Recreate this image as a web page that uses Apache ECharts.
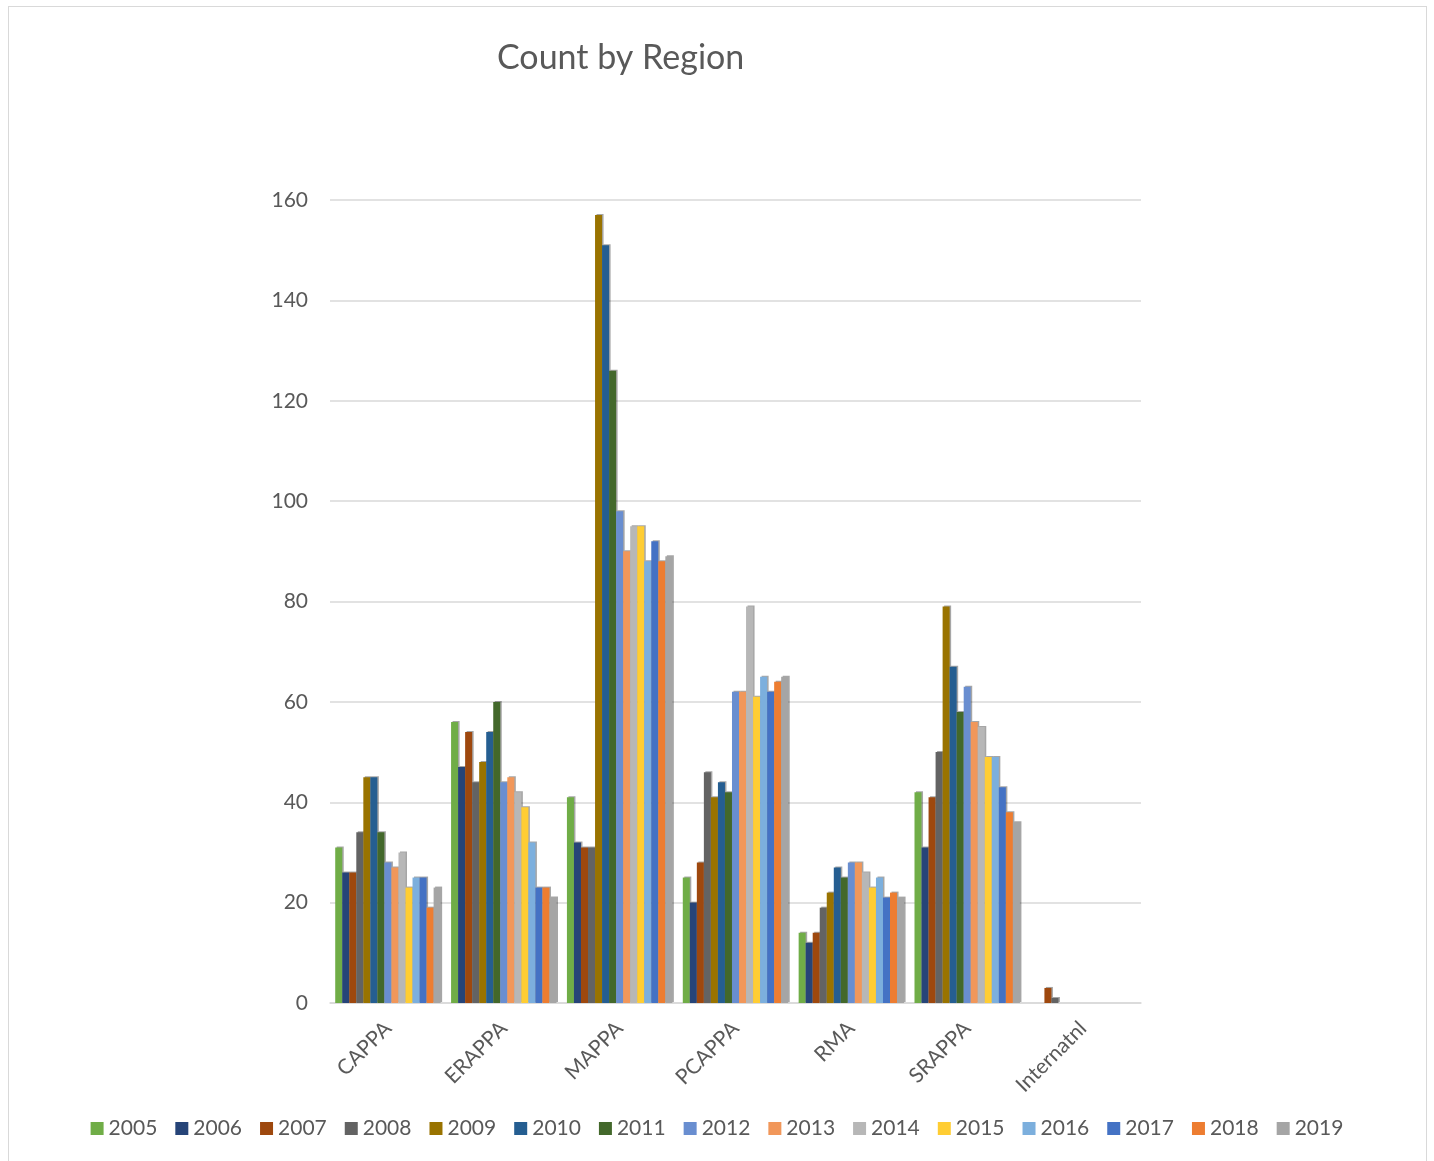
<!DOCTYPE html>
<html>
<head>
<meta charset="utf-8">
<script src="https://cdn.jsdelivr.net/npm/echarts@6/dist/echarts.min.js"></script>
<style>
html,body{margin:0;padding:0;background:#fff;}
#frame{position:absolute;left:8px;top:6px;width:1419px;height:1160px;border:1px solid #D9D9D9;box-sizing:border-box;}
#chart{position:absolute;left:0;top:0;width:1434px;height:1161px;}
</style>
</head>
<body>
<div id="frame"></div>
<div id="chart"></div>
<script>
const categories = ['CAPPA','ERAPPA','MAPPA','PCAPPA','RMA','SRAPPA','Internatnl'];
const years = ['2005','2006','2007','2008','2009','2010','2011','2012','2013','2014','2015','2016','2017','2018','2019'];
const colors = ['#70AD47','#264478','#9E480E','#636363','#997300','#255E91','#43682B','#698ED0','#F1975A','#B7B7B7','#FFCD33','#7CAFDD','#4472C4','#ED7D31','#A5A5A5'];
const yTicks = {min:0, max:160, interval:20};

const v2005 = [31,56,41,25,14,42,0];
const v2006 = [26,47,32,20,12,31,0];
const v2007 = [26,54,31,28,14,41,3];
const v2008 = [34,44,31,46,19,50,1];
const v2009 = [45,48,157,41,22,79,0];
const v2010 = [45,54,151,44,27,67,0];
const v2011 = [34,60,126,42,25,58,0];
const v2012 = [28,44,98,62,28,63,0];
const v2013 = [27,45,90,62,28,56,0];
const v2014 = [30,42,95,79,26,55,0];
const v2015 = [23,39,95,61,23,49,0];
const v2016 = [25,32,88,65,25,49,0];
const v2017 = [25,23,92,62,21,43,0];
const v2018 = [19,23,88,64,22,38,0];
const v2019 = [23,21,89,65,21,36,0];
const valuesByYear = [v2005,v2006,v2007,v2008,v2009,v2010,v2011,v2012,v2013,v2014,v2015,v2016,v2017,v2018,v2019];

const font = 'Lato, "Liberation Sans", sans-serif';
const chart = echarts.init(document.getElementById('chart'));
chart.setOption({
  animation:false,
  color: colors,
  title:{
    text:'Count by Region',
    left:492, top:36,
    textStyle:{fontFamily:font, fontSize:34, fontWeight:'normal', color:'#595959'}
  },
  legend:{
    data: years,
    left:'center', top:1113,
    itemWidth:13, itemHeight:13, itemGap:18,
    icon:'rect',
    textStyle:{fontFamily:font, fontSize:21, color:'#595959', padding:[0,0,0,0]}
  },
  grid:{left:330, right:293, top:200, bottom:158},
  xAxis:{
    type:'category',
    data: categories,
    axisLine:{lineStyle:{color:'#D9D9D9', width:1.5}},
    axisTick:{show:false},
    axisLabel:{rotate:45, fontFamily:font, fontSize:21, color:'#595959', margin:22}
  },
  yAxis:{
    type:'value',
    min:yTicks.min, max:yTicks.max, interval:yTicks.interval,
    axisLine:{show:false},
    axisTick:{show:false},
    splitLine:{lineStyle:{color:'#D9D9D9', width:1.5}},
    axisLabel:{fontFamily:font, fontSize:21, color:'#595959', margin:22}
  },
  series: years.map((y,i)=>({
    name:y, type:'bar',
    data: valuesByYear[i],
    barGap:'0%', barCategoryGap:'9%',
    itemStyle:{color:colors[i], shadowColor:'rgba(0,0,0,0.35)', shadowOffsetX:1.5, shadowOffsetY:-1, shadowBlur:0}
  }))
});
</script>
</body>
</html>
